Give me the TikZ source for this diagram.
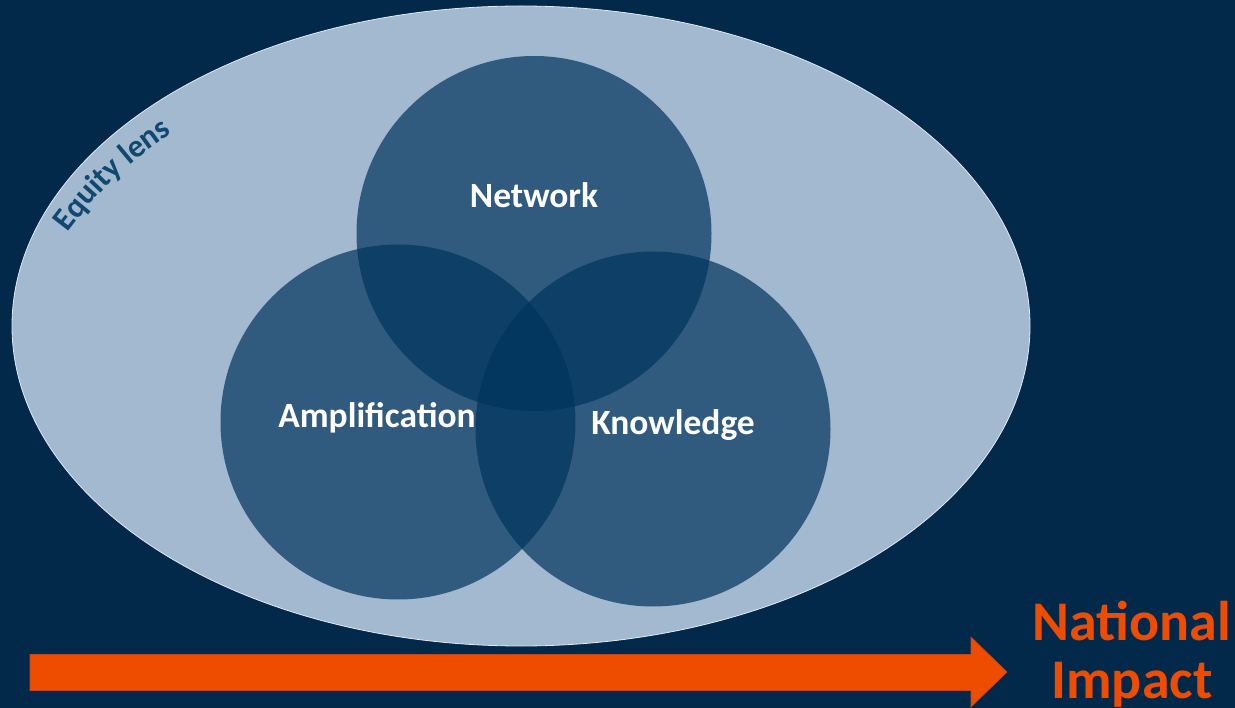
\documentclass[tikz,border=0pt]{standalone}
\usepackage{fontspec}
\setmainfont{Carlito}
\usetikzlibrary{decorations.text}
\definecolor{navy}{RGB}{2,41,74}
\definecolor{lens}{RGB}{163,185,208}
\definecolor{lensedge}{RGB}{225,233,242}
\definecolor{circ}{RGB}{0,52,94}
\definecolor{impact}{RGB}{238,77,0}
\definecolor{impactedge}{RGB}{190,70,30}
\definecolor{lenstext}{RGB}{16,72,112}
\tikzset{
  venn/.style={circle, fill=circ, fill opacity=0.7, minimum size=355pt, inner sep=0pt},
  venntext/.style={text=white, font=\bfseries\fontsize{35.5}{40}\selectfont, anchor=base, inner sep=0pt},
  impacttext/.style={text=impact, font=\bfseries\fontsize{56}{58}\selectfont, align=center, inner sep=0pt},
  lensfill/.style={fill=lens, draw=lensedge, line width=0.8pt},
  arrowfill/.style={fill=impact, draw=impactedge, line width=0.6pt},
}
\begin{document}
\begin{tikzpicture}[x=1pt,y=-1pt]
\fill[navy] (0,0) rectangle (1235,708);
\useasboundingbox (0,0) rectangle (1235,708);
% equity lens ellipse
\coordinate (lensc) at (521,326);
\path[lensfill] (lensc) ellipse [x radius=509, y radius=320];
% lens label
\coordinate (ls) at (62,240);
\coordinate (le) at (180,128);
\path[decorate, decoration={text along path, text align=center,
  text={|\bfseries\fontsize{32}{34}\selectfont\color{lenstext}|Equity lens}}]
  (ls) to[bend left=10] (le);
% venn circles
\node[venn] (net) at (534,233.5) {};
\node[venn] (amp) at (398,422) {};
\node[venn] (kno) at (653,429) {};
% labels
\node[venntext] (netl) at (534,208) {Network};
\node[venntext] (ampl) at (377,428) {Amplification};
\node[venntext] (knol) at (673,435) {Knowledge};
% arrow
\coordinate (at) at (30,672);
\coordinate (ah) at (1007,672);
\path[arrowfill] (30,654.5) -- (971,654.5) -- (971,637) -- (ah) -- (971,707) -- (971,690.5) -- (30,690.5) -- cycle;
% national impact
\node[impacttext, anchor=base] (nat) at (1132,640) {National};
\node[impacttext, anchor=base] (imp) at (1132,698) {Impact};
\end{tikzpicture}
\end{document}
